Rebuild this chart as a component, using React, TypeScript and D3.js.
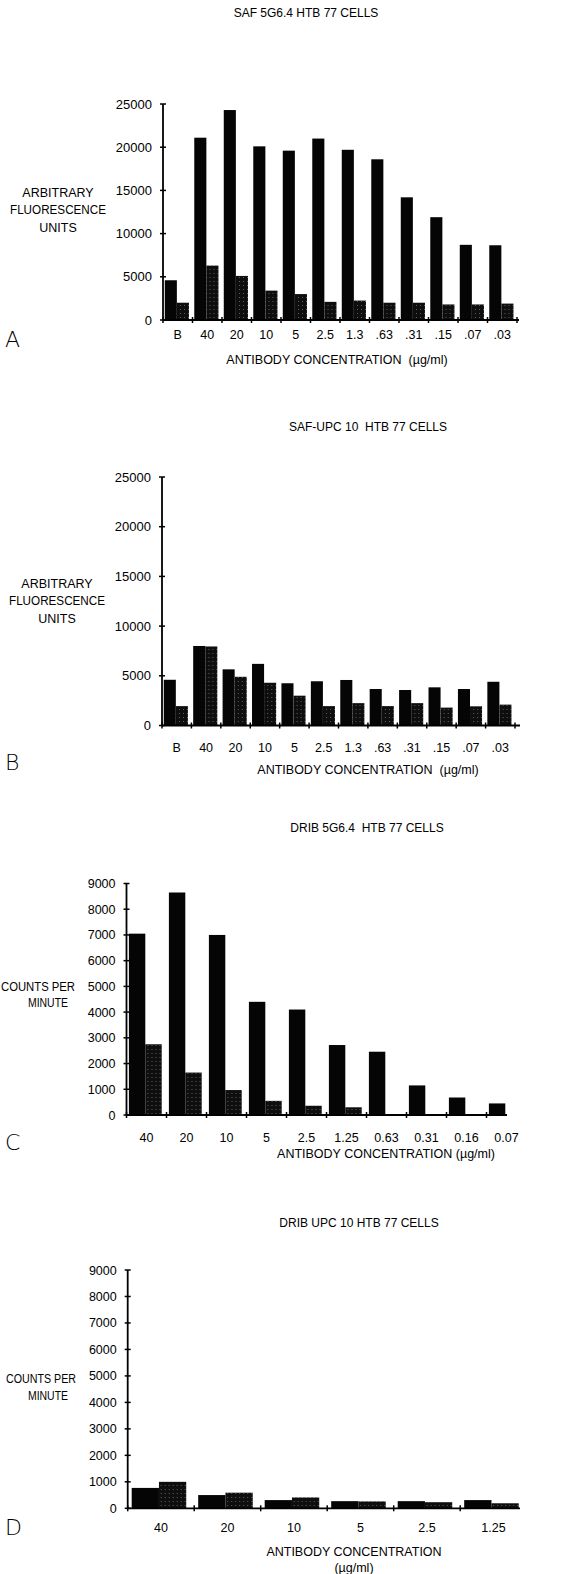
import * as d3 from "d3";

// concentrations (µg/ml)
const catsAB = ["B", "40", "20", "10", "5", "2.5", "1.3", ".63", ".31", ".15", ".07", ".03"];
const catsC = ["40", "20", "10", "5", "2.5", "1.25", "0.63", "0.31", "0.16", "0.07"];
const catsD = ["40", "20", "10", "5", "2.5", "1.25"];

// A: SAF 5G6.4
const safSolid = [4600, 21100, 24300, 20100, 19600, 21000, 19700, 18600, 14200, 11900, 8700, 8650];
const safDotted = [2000, 6300, 5100, 3400, 3000, 2100, 2250, 2000, 2000, 1800, 1800, 1900];
// B: SAF-UPC 10
const upcSolid = [4600, 8000, 5650, 6200, 4250, 4450, 4580, 3670, 3570, 3840, 3670, 4400];
const upcDotted = [1950, 7950, 4900, 4300, 3000, 1950, 2250, 1950, 2250, 1800, 1930, 2100];
// C: DRIB 5G6.4
const dribSolid = [7050, 8650, 7000, 4400, 4100, 2720, 2460, 1150, 680, 450];
const dribDotted = [2750, 1650, 970, 550, 360, 300, 0, 0, 0, 0];
// D: DRIB UPC 10
const dribUpcSolid = [770, 500, 310, 270, 270, 310];
const dribUpcDotted = [1000, 590, 410, 260, 230, 190];

const fluorTicks = [0, 5000, 10000, 15000, 20000, 25000];
const cpmTicks = [0, 1000, 2000, 3000, 4000, 5000, 6000, 7000, 8000, 9000];

const SANS = "'Liberation Sans', Arial, Helvetica, sans-serif";

const panels = [
  {
    letter: "A", letterY: 347,
    title: "SAF 5G6.4 HTB 77 CELLS", titleX: 306, titleY: 17,
    cats: catsAB, solid: safSolid, dotted: safDotted, ticks: fluorTicks,
    x0: 163, x1: 517, axisEnd: 519, yTop: 104, yBottom: 320, tickFont: 13,
    labelDy: 18.5, titleDy: 44, titleCx: 337,
    yLabel: [
      { t: "ARBITRARY", x: 58, y: 197 },
      { t: "FLUORESCENCE", x: 58, y: 214, len: 96 },
      { t: "UNITS", x: 58, y: 232 },
    ],
    xTitle: ["ANTIBODY CONCENTRATION  (µg/ml)"],
  },
  {
    letter: "B", letterY: 770,
    title: "SAF-UPC 10  HTB 77 CELLS", titleX: 368, titleY: 431,
    cats: catsAB, solid: upcSolid, dotted: upcDotted, ticks: fluorTicks,
    x0: 162, x1: 515, axisEnd: 520, yTop: 477, yBottom: 725.5, tickFont: 13,
    labelDy: 26, titleDy: 48, titleCx: 368,
    yLabel: [
      { t: "ARBITRARY", x: 57, y: 588 },
      { t: "FLUORESCENCE", x: 57, y: 605, len: 96 },
      { t: "UNITS", x: 57, y: 623 },
    ],
    xTitle: ["ANTIBODY CONCENTRATION  (µg/ml)"],
  },
  {
    letter: "C", letterY: 1150,
    title: "DRIB 5G6.4  HTB 77 CELLS", titleX: 367, titleY: 832,
    cats: catsC, solid: dribSolid, dotted: dribDotted, ticks: cpmTicks,
    x0: 126.5, x1: 526.5, axisEnd: 507, yTop: 883.5, yBottom: 1115, tickFont: 12.5,
    labelDy: 27, titleDy: 43, titleCx: 386,
    yLabel: [
      { t: "COUNTS PER", x: 38, y: 991, len: 74 },
      { t: "MINUTE", x: 48, y: 1007, len: 40 },
    ],
    xTitle: ["ANTIBODY CONCENTRATION (µg/ml)"],
  },
  {
    letter: "D", letterY: 1535,
    title: "DRIB UPC 10 HTB 77 CELLS", titleX: 359, titleY: 1227,
    cats: catsD, solid: dribUpcSolid, dotted: dribUpcDotted, ticks: cpmTicks,
    x0: 127.7, x1: 526.7, axisEnd: 520, yTop: 1270, yBottom: 1508.3, tickFont: 12.5,
    labelDy: 24, titleDy: 48, titleCx: 354,
    yLabel: [
      { t: "COUNTS PER", x: 41, y: 1383, len: 70 },
      { t: "MINUTE", x: 48, y: 1400, len: 40 },
    ],
    xTitle: ["ANTIBODY CONCENTRATION", "(µg/ml)"],
  },
];

function Panel({ p }: { p: any }) {
  const max = p.ticks[p.ticks.length - 1];
  const y = d3.scaleLinear().domain([0, max]).range([p.yBottom, p.yTop]);
  const x = d3.scaleBand<string>().domain(p.cats).range([p.x0, p.x1]);
  const bw = x.bandwidth();
  const sub = d3.scaleBand<string>().domain(["solid", "dotted"]).range([bw * 0.06, bw * 0.88]);
  const rows = p.cats.map((c: string, i: number) => ({ c, solid: p.solid[i], dotted: p.dotted[i] }));
  const bounds = p.cats.map((c: string) => x(c)!).concat([p.x1]);

  return (
    <g>
      {/* title */}
      <text x={p.titleX} y={p.titleY} textAnchor="middle" fontSize={12} fontFamily={SANS} style={{ whiteSpace: "pre" }}>
        {p.title}
      </text>

      {/* bars */}
      {rows.map((r: any) => (
        <g key={r.c} transform={`translate(${x(r.c)},0)`}>
          <rect x={sub("solid")} y={y(r.solid)} width={sub.bandwidth()} height={p.yBottom - y(r.solid)} fill="#050505" />
          {r.dotted > 0 && (
            <rect x={sub("dotted")} y={y(r.dotted)} width={sub.bandwidth()} height={p.yBottom - y(r.dotted)} fill="url(#dots)" />
          )}
        </g>
      ))}

      {/* y axis */}
      <line x1={p.x0} x2={p.x0} y1={p.yTop} y2={p.yBottom} stroke="#000" strokeWidth={1.8} />
      {p.ticks.map((t: number) => (
        <g key={t}>
          <line x1={p.x0 - 3} x2={p.x0 + 3} y1={y(t)} y2={y(t)} stroke="#000" strokeWidth={1.5} />
          <text x={p.x0 - 11} y={y(t) + 4.5} textAnchor="end" fontSize={p.tickFont} fontFamily={SANS}>
            {t}
          </text>
        </g>
      ))}

      {/* x axis */}
      <line x1={p.x0} x2={p.axisEnd} y1={p.yBottom} y2={p.yBottom} stroke="#000" strokeWidth={1.8} />
      {bounds.filter((b: number) => b <= p.axisEnd + 1).map((b: number, i: number) => (
        <line key={i} x1={b} x2={b} y1={p.yBottom - 3} y2={p.yBottom + 3} stroke="#000" strokeWidth={1.5} />
      ))}
      {p.cats.map((c: string) => (
        <text key={c} x={x(c)! + bw / 2} y={p.yBottom + p.labelDy} textAnchor="middle" fontSize={12.5} fontFamily={SANS}>
          {c}
        </text>
      ))}

      {/* axis titles */}
      {p.xTitle.map((t: string, i: number) => (
        <text key={i} x={p.titleCx} y={p.yBottom + p.titleDy + i * 16} textAnchor="middle" fontSize={12.5} fontFamily={SANS} style={{ whiteSpace: "pre" }}>
          {t}
        </text>
      ))}
      {p.yLabel.map((l: any) => (
        <text key={l.t} x={l.x} y={l.y} textAnchor="middle" fontSize={12.5} fontFamily={SANS}
          {...(l.len ? { textLength: l.len, lengthAdjust: "spacingAndGlyphs" } : {})}>
          {l.t}
        </text>
      ))}

      {/* panel letter */}
      <text x={5} y={p.letterY} fontSize={22} fontWeight={200} fontFamily="'DejaVu Sans', sans-serif">
        {p.letter}
      </text>
    </g>
  );
}

export default function App() {
  return (
    <svg width={583} height={1574} style={{ position: "absolute", left: 0, top: 0, background: "#fff" }}>
      <defs>
        <pattern id="dots" width={4} height={4} patternUnits="userSpaceOnUse">
          <rect width={4} height={4} fill="#0e0e0e" />
          <rect x={1} y={1} width={1} height={1} fill="#5e5e5e" />
        </pattern>
      </defs>
      <rect width={583} height={1574} fill="#fff" />
      {panels.map((p) => (
        <Panel key={p.letter} p={p} />
      ))}
    </svg>
  );
}
